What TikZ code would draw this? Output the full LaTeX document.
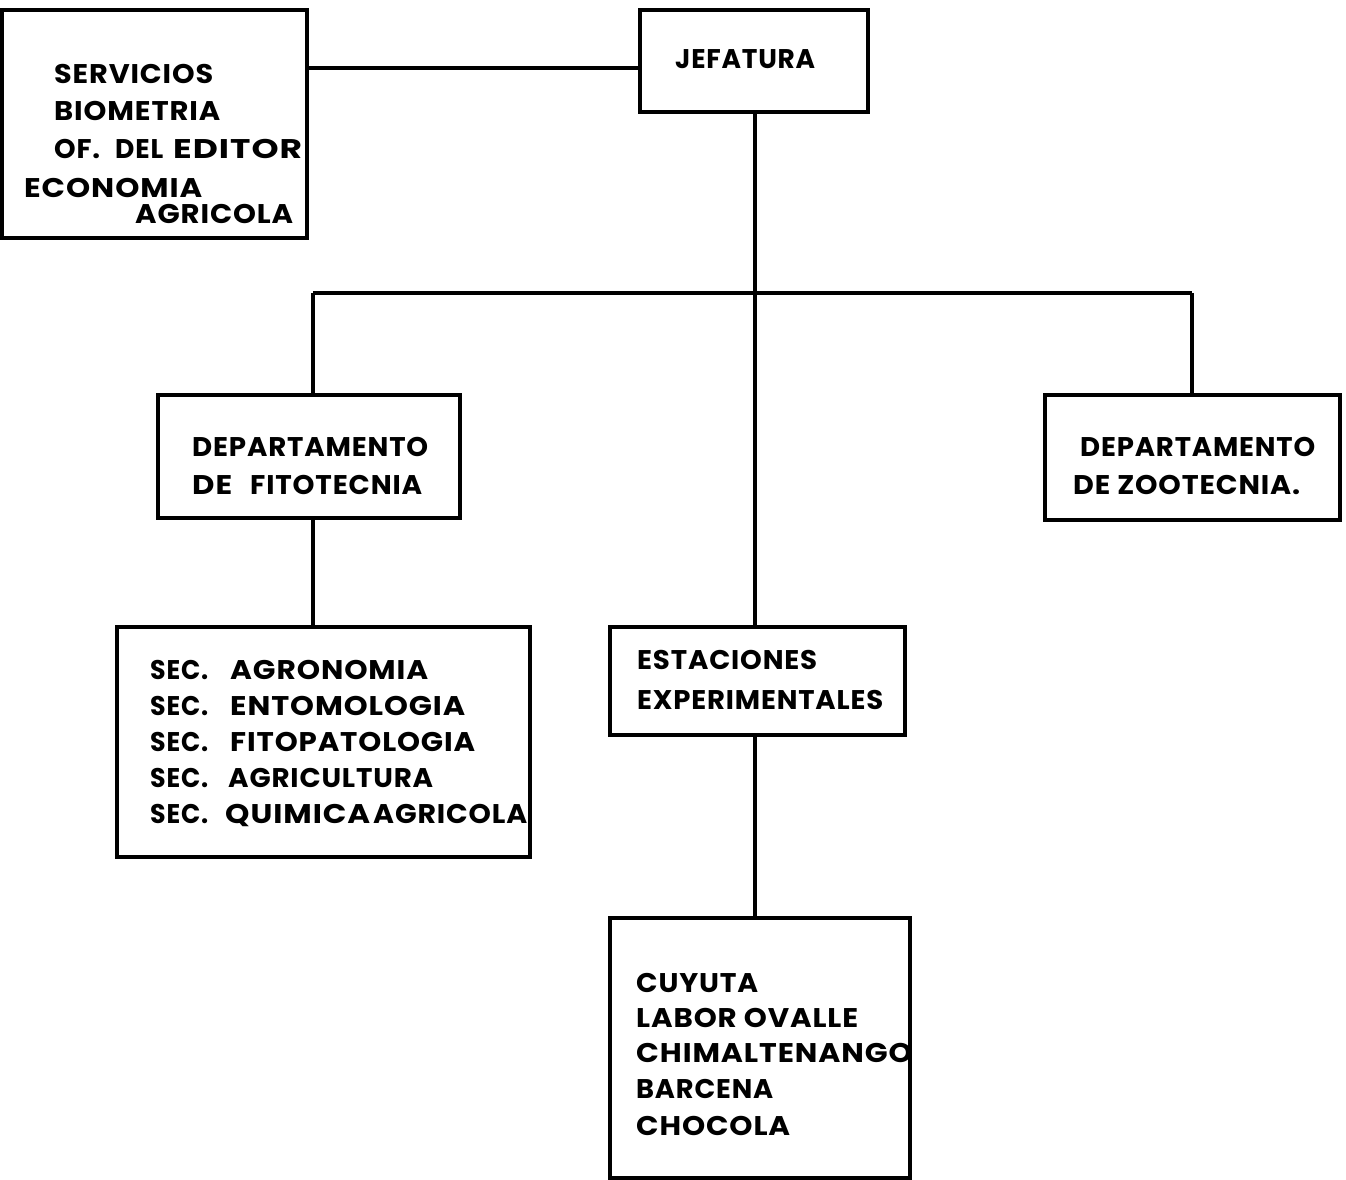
\documentclass[tikz,border=0pt]{standalone}
\usepackage{graphicx}
\usepackage{fontspec}
\setmainfont{Poppins}[LetterSpace=3]
\newcommand\fitw[2]{\resizebox{#1pt}{\height}{#2}}
\begin{document}
\begin{tikzpicture}[x=1pt,y=-1pt,
  boxst/.style={draw,line width=3.5pt,inner sep=0pt},
  wire/.style={line width=3.5pt},
  txt/.style={anchor=base west,inner sep=0pt,font=\fontsize{27}{32}\selectfont\bfseries}]
\useasboundingbox (0,0) rectangle (1346,1179);
% boxes
\node[boxst,minimum width=305,minimum height=228] (serv) at (154.5,124) {};
\node[boxst,minimum width=228,minimum height=102] (jef) at (754,61) {};
\node[boxst,minimum width=302,minimum height=123] (fito) at (309,456.5) {};
\node[boxst,minimum width=295,minimum height=125] (zoo) at (1192.5,457.5) {};
\node[boxst,minimum width=413,minimum height=230] (sec) at (323.5,742) {};
\node[boxst,minimum width=295,minimum height=108] (est) at (757.5,681) {};
\node[boxst,minimum width=300,minimum height=260] (sta) at (760,1048) {};
\coordinate (barL) at (313,293);
\coordinate (barR) at (1192,293);
% connectors
\draw[wire] ([yshift=-7pt]jef.west) -- ([yshift=-7pt]jef.west -| serv.east);
\draw[wire] (jef.south -| 755,0) -- (est.north -| 755,0);
\draw[wire] (barL) -- (barR);
\draw[wire] (barL) -- (barL |- fito.north);
\draw[wire] (barR) -- (barR |- zoo.north);
\draw[wire] (fito.south -| barL) -- (sec.north -| barL);
\draw[wire] (est.south -| 755,0) -- (sta.north -| 755,0);
% texts: servicios
\node[txt] (t1) at (54,83) {\fitw{159}{SERVICIOS}};
\node[txt] (t2) at (54,120) {\fitw{166}{BIOMETRIA}};
\node[txt] (t3a) at (54,158) {\fitw{46}{OF.}};
\node[txt] (t3b) at (115,158) {\fitw{48}{DEL}};
\node[txt] (t3c) at (173,158) {\fitw{129}{EDITOR}};
\node[txt] (t4) at (24,197) {\fitw{178}{ECONOMIA}};
\node[txt] (t5) at (135,223) {\fitw{158}{AGRICOLA}};
% jefatura
\node[txt] (tj) at (675,68) {\fitw{140}{JEFATURA}};
% departamentos
\node[txt] (f1) at (192,456) {\fitw{236}{DEPARTAMENTO}};
\node[txt] (f2a) at (192,494) {\fitw{40}{DE}};
\node[txt] (f2b) at (250,494) {\fitw{172}{FITOTECNIA}};
\node[txt] (z1) at (1080,456) {\fitw{235}{DEPARTAMENTO}};
\node[txt] (z2) at (1073,494) {\fitw{227}{DE ZOOTECNIA.}};
% secciones
\node[txt] (c1a) at (150,679) {\fitw{58}{SEC.}};
\node[txt] (c1b) at (230,679) {\fitw{198}{AGRONOMIA}};
\node[txt] (c2a) at (150,715) {\fitw{58}{SEC.}};
\node[txt] (c2b) at (230,715) {\fitw{235}{ENTOMOLOGIA}};
\node[txt] (c3a) at (150,751) {\fitw{58}{SEC.}};
\node[txt] (c3b) at (230,751) {\fitw{245}{FITOPATOLOGIA}};
\node[txt] (c4a) at (150,787) {\fitw{58}{SEC.}};
\node[txt] (c4b) at (228,787) {\fitw{205}{AGRICULTURA}};
\node[txt] (c5a) at (150,823) {\fitw{58}{SEC.}};
\node[txt] (c5b) at (225,823) {\fitw{145}{QUIMICA}};
\node[txt] (c5c) at (373,823) {\fitw{154}{AGRICOLA}};
% estaciones
\node[txt] (e1) at (637,669) {\fitw{180}{ESTACIONES}};
\node[txt] (e2) at (637,709) {\fitw{246}{EXPERIMENTALES}};
% lugares
\node[txt] (k1) at (636,992) {\fitw{122}{CUYUTA}};
\node[txt] (k2) at (636,1027) {\fitw{222}{LABOR OVALLE}};
\node[txt] (k3) at (636,1062) {\fitw{276}{CHIMALTENANGO}};
\node[txt] (k4) at (636,1098) {\fitw{137}{BARCENA}};
\node[txt] (k5) at (636,1135) {\fitw{154}{CHOCOLA}};
\end{tikzpicture}
\end{document}
